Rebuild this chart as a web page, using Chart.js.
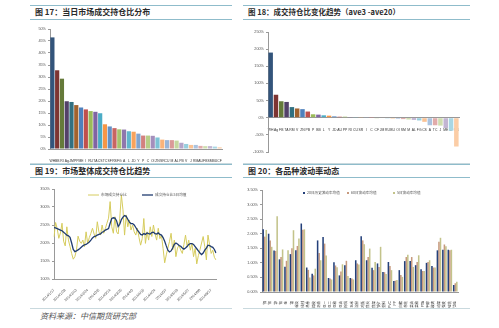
<!DOCTYPE html>
<html>
<head>
<meta charset="utf-8">
<script src="https://cdn.jsdelivr.net/npm/chart.js@4.4.0/dist/chart.umd.min.js"></script>
<style>
body { margin: 0; background: #fff; width: 499px; height: 328px; overflow: hidden; position: relative; font-family: "Noto Sans CJK SC", sans-serif; }
.ln { position: absolute; height: 0; border-top: 1px solid #8fbccb; }
.ln.low { border-top-color: #c9d9de; }
.title { position: absolute; font-size: 8px; line-height: 10px; color: #2b2b2b; font-weight: 700; white-space: nowrap; }
.box { position: absolute; }
.src { position: absolute; left: 40px; top: 311px; font-size: 8px; line-height: 10px; color: #555; font-style: italic; }
</style>
</head>
<body>

<div class="ln" style="left:30px;top:5px;width:202px"></div>
<div class="ln" style="left:30px;top:19px;width:202px"></div>
<div class="ln low" style="left:30px;top:163px;width:202px"></div>
<div class="ln" style="left:243px;top:5px;width:227px"></div>
<div class="ln" style="left:243px;top:19px;width:227px"></div>
<div class="ln low" style="left:243px;top:163px;width:227px"></div>
<div class="ln" style="left:30px;top:164px;width:202px"></div>
<div class="ln" style="left:30px;top:177px;width:202px"></div>
<div class="ln low" style="left:30px;top:308px;width:202px"></div>
<div class="ln" style="left:243px;top:164px;width:227px"></div>
<div class="ln" style="left:243px;top:177px;width:227px"></div>
<div class="ln low" style="left:243px;top:308px;width:227px"></div>

<div class="title" style="left:35px;top:7px">图 17：当日市场成交持仓比分布</div>
<div class="title" style="left:248px;top:7px;font-size:7.5px">图 18：成交持仓比变化趋势（ave3 -ave20）</div>
<div class="title" style="left:35px;top:166px">图 19：市场整体成交持仓比趋势</div>
<div class="title" style="left:248px;top:166px">图 20：各品种波动率动态</div>

<div class="box" style="left:30px;top:22px;width:202px;height:142px"><canvas id="c17"></canvas></div>
<div class="box" style="left:243px;top:22px;width:227px;height:142px"><canvas id="c18"></canvas></div>
<div class="box" style="left:30px;top:180px;width:202px;height:128px"><canvas id="c19"></canvas></div>
<div class="box" style="left:243px;top:180px;width:227px;height:128px"><canvas id="c20"></canvas></div>

<div class="src">资料来源：中信期货研究部</div>

<script>
// 图17：当日成交持仓比 (%)
const cats17 = ['WH','BB','RI','Ag','JM','PP','ME','I','RU','TA','CS','TC','SF','RS','FG','A','L','JD','Y','P','C','OI','ZN','SR','CU','M','AL','PB','V','J','RM','AU','FB','SM','BU','CF'];
const vals17 = [46.5, 32.8, 29.3, 19.9, 19.6, 18.3, 17.3, 16.5, 15.8, 15.5, 14.9, 10.3, 9.4, 8.7, 8.2, 8.1, 7.4, 7.2,
                6.4, 5.6, 5.6, 5.5, 4.8, 3.9, 3.7, 3.7, 3.5, 2.6, 2.1, 1.7, 1.7, 1.3, 1.2, 1.2, 1.0, 0.7];
const yAxis17 = [0, 50, 5];

// 图18：ave3 - ave20 (%)
const cats18 = ['WH','Ag','FB','TA','RM','V','ZN','PB','P','BB','L','Y','JD','AU','PP','RI','CU','SR','I','C','CF','JM','RU','BU','OI','SM','M','AL','FG','CS','A','TC','J','ME','SF','RS'];
const vals18 = [190, 67, 48, 46, 31, 27, 25, 18, 10, 9, 7, 6, 4, 3, 3, 2, 2, 1, 1, 0.5,
                -1, -1.5, -2, -2.5, -3, -4, -5, -6, -8, -12, -22, -22, -23, -30, -38, -84];
const yAxis18 = [-100, 250, 50];

// 图19：市场整体成交持仓比 (%)
const dates19 = [
  '2014/1/17','2014/1/20','2014/1/21','2014/1/22','2014/1/23','2014/1/24','2014/1/27','2014/1/28','2014/1/29','2014/1/30',
  '2014/2/7','2014/2/10','2014/2/11','2014/2/12','2014/2/13','2014/2/14','2014/2/17','2014/2/18','2014/2/19','2014/2/20',
  '2014/2/21','2014/2/24','2014/2/25','2014/2/26','2014/2/27','2014/2/28','2014/3/3','2014/3/4','2014/3/5','2014/3/6',
  '2014/3/7','2014/3/10','2014/3/11','2014/3/12','2014/3/13','2014/3/14','2014/3/17','2014/3/18','2014/3/19','2014/3/20',
  '2014/3/21','2014/3/24','2014/3/25','2014/3/26','2014/3/27','2014/3/28','2014/3/31','2014/4/1','2014/4/2','2014/4/3',
  '2014/4/4','2014/4/8','2014/4/9','2014/4/10','2014/4/11','2014/4/14','2014/4/15','2014/4/16','2014/4/17','2014/4/18',
  '2014/4/21','2014/4/22','2014/4/23','2014/4/24','2014/4/25','2014/4/28','2014/4/29','2014/4/30','2014/5/5','2014/5/6',
  '2014/5/7','2014/5/8','2014/5/9','2014/5/12','2014/5/13','2014/5/14','2014/5/15','2014/5/16','2014/5/19','2014/5/20',
  '2014/5/21','2014/5/22','2014/5/23','2014/5/26','2014/5/27','2014/5/28','2014/5/29','2014/5/30','2014/6/3','2014/6/4',
  '2014/6/5','2014/6/6','2014/6/9','2014/6/10','2014/6/11','2014/6/12','2014/6/13','2014/6/16','2014/6/17','2014/6/18',
  '2014/6/19','2014/6/20'];
const ratio19 = [
  217, 257, 240, 213, 228, 255, 205, 192, 245, 208,
  190, 171, 155, 162, 180, 219, 205, 199, 208, 190,
  231, 199, 215, 227, 241, 225, 213, 259, 231, 222,
  250, 227, 240, 255, 269, 315, 245, 227, 273, 231,
  225, 269, 333, 292, 222, 278, 245, 264, 236, 250,
  231, 222, 241, 215, 194, 212, 268, 199, 231, 208,
  245, 218, 250, 225, 208, 241, 212, 222, 185, 145,
  167, 186, 204, 227, 181, 208, 162, 186, 194, 180,
  171, 196, 222, 190, 208, 180, 199, 162, 185, 142,
  165, 181, 200, 218, 190, 153, 222, 195, 171, 180,
  160, 153];
const ma19 = [
  243, 242, 240, 238, 236, 234, 230, 226, 222, 220,
  216, 200, 182, 176, 178, 181, 184, 188, 192, 195,
  196, 199, 203, 208, 214, 218, 219, 222, 224, 225,
  230, 232, 236, 238, 240, 255, 268, 270, 269, 262,
  246, 252, 265, 272, 276, 274, 266, 258, 254, 254,
  250, 243, 236, 230, 224, 222, 226, 224, 228, 226,
  225, 229, 230, 226, 225, 228, 224, 222, 215, 205,
  192, 180, 175, 178, 186, 196, 200, 197, 193, 191,
  186, 183, 186, 190, 196, 198, 198, 196, 190, 184,
  178, 172, 168, 172, 180, 186, 194, 193, 190, 188,
  182, 172];
const legend19 = ['市场成交持仓比', '成交持仓比5日均值'];
const yAxis19 = [100, 350, 50];

// 图20：各品种波动率 (%)
const cats20 = ['铜','铝','锌','铅','金','银','螺纹','线材','热卷','橡胶','沥青','豆一','豆二','豆粕','豆油','棕榈','玉米','淀粉',
                '鸡蛋','焦炭','焦煤','铁矿','塑料','PVC','PP','白糖','棉花','菜油','菜粕','PTA','甲醇','玻璃','动煤','强麦','硅铁','锰硅'];
const vol20a = [2.15, 2.00, 1.42, 1.12, 0.87, 1.30, 1.43, 2.35, 0.84, 0.63, 1.77, 1.89, 0.48, 1.02, 0.57, 0.92, 0.48, 1.09,
                1.91, 1.09, 0.83, 0.98, 0.69, 1.03, 0.38, 0.75, 1.06, 1.06, 0.92, 0.78, 1.00, 0.89, 1.43, 1.45, 1.45, 0.24];
const vol20b = [1.90, 1.77, 1.41, 1.20, 1.07, 1.50, 1.58, 2.14, 0.76, 0.57, 1.34, 1.66, 0.46, 0.91, 0.70, 1.07, 0.46, 0.98,
                1.77, 1.20, 0.75, 0.86, 0.68, 0.89, 0.39, 0.58, 1.20, 1.20, 1.03, 0.72, 1.03, 0.84, 1.72, 1.63, 1.43, 0.30];
const vol20c = [2.13, 1.55, 2.60, 1.46, 1.43, 2.12, 1.84, 2.15, 0.50, 0.80, 1.09, 1.25, 0.43, 0.85, 0.95, 0.55, 0.43, 0.94,
                1.64, 1.49, 1.03, 1.55, 0.62, 0.75, 0.41, 0.52, 1.28, 0.86, 1.26, 0.72, 1.09, 0.84, 1.86, 1.57, 1.45, 0.35];
const legend20 = ['20日历史波动率均值', '60日波动率均值', '5日波动率均值'];
const yAxis20 = [0, 3.5, 0.5];

Chart.defaults.animation = false;
Chart.defaults.font.family = '"Liberation Sans", "Noto Sans CJK SC", sans-serif';
Chart.defaults.plugins.legend.display = false;
Chart.defaults.plugins.tooltip.enabled = false;

// Excel style colours, darker first cycle then lighter cycles
const baseCols = [[79,129,189],[192,80,77],[155,187,89],[128,100,162],[75,172,198],[247,150,70]];
const shades = [-0.35, 0, 0.12, 0.28, 0.42, 0.52];
function barColor(i) {
    const c = baseCols[i % 6], s = shades[Math.floor(i / 6) % 6];
    const m = s < 0 ? c.map(v => Math.round(v * (1 + s))) : c.map(v => Math.round(v + (255 - v) * s));
    return 'rgb(' + m.join(',') + ')';
}

function yAxis(range, width, fmt) {
    return {
        min: range[0], max: range[1],
        ticks: { stepSize: range[2], font: { size: 3.8 }, color: '#555', padding: 2, callback: fmt },
        grid: { drawOnChartArea: false, tickLength: 2, color: '#999' },
        border: { color: '#999' },
        afterFit: s => { s.width = width; }
    };
}

// petite légende dessinée à la main
const miniLegend = {
    id: 'miniLegend',
    afterDraw(chart, args, opts) {
        if (!opts.items) return;
        const ctx = chart.ctx;
        ctx.save();
        ctx.font = opts.size + 'px "Noto Sans CJK SC"';
        ctx.textBaseline = 'middle';
        opts.items.forEach(it => {
            let tx;
            if (it.line) {
                ctx.strokeStyle = it.color;
                ctx.lineWidth = it.lw;
                ctx.beginPath();
                ctx.moveTo(it.x, opts.y);
                ctx.lineTo(it.x + 11, opts.y);
                ctx.stroke();
                tx = it.x + 13;
            } else {
                ctx.fillStyle = it.color;
                ctx.fillRect(it.x, opts.y - 1, 2, 2);
                tx = it.x + 4;
            }
            ctx.fillStyle = '#555';
            ctx.fillText(it.text, tx, opts.y);
        });
        ctx.restore();
    }
};
Chart.register(miniLegend);

// 图17
new Chart(document.getElementById('c17'), {
    type: 'bar',
    data: {
        labels: cats17,
        datasets: [{ data: vals17, backgroundColor: vals17.map((_, i) => barColor(i)), barPercentage: 0.88, categoryPercentage: 1 }]
    },
    options: {
        responsive: true, maintainAspectRatio: false,
        layout: { padding: { top: 7, right: 10, left: 0, bottom: 0 } },
        scales: {
            x: {
                ticks: { autoSkip: false, maxRotation: 0, minRotation: 0, font: { size: 3.4 }, color: '#333', padding: 2 },
                grid: { display: false }, border: { color: '#999' },
                afterFit: s => { s.height = 15; }
            },
            y: yAxis(yAxis17, 20, v => v + '%')
        }
    }
});

// 图18
new Chart(document.getElementById('c18'), {
    type: 'bar',
    data: {
        labels: cats18,
        datasets: [{ data: vals18, backgroundColor: vals18.map((_, i) => barColor(i)), barPercentage: 0.85, categoryPercentage: 1 }]
    },
    options: {
        responsive: true, maintainAspectRatio: false,
        layout: { padding: { top: 10, right: 11, left: 0, bottom: 12 } },
        scales: {
            x: {
                position: { y: 0 },
                ticks: { autoSkip: false, maxRotation: 0, minRotation: 0, font: { size: 3.4 }, color: '#333', padding: 2 },
                grid: { display: false }, border: { color: '#999' }
            },
            y: yAxis(yAxis18, 25, v => v + '%')
        }
    }
});

// 图19
new Chart(document.getElementById('c19'), {
    type: 'line',
    data: {
        labels: dates19,
        datasets: [
            { data: ma19, borderColor: '#1f3b70', borderWidth: 1.3, pointRadius: 0, order: 0 },
            { data: ratio19, borderColor: '#d6cc5e', borderWidth: 1, pointRadius: 0, order: 1 }
        ]
    },
    options: {
        responsive: true, maintainAspectRatio: false,
        layout: { padding: { top: 9, right: 16, left: 0, bottom: 0 } },
        scales: {
            x: {
                ticks: {
                    autoSkip: false, maxRotation: 45, minRotation: 45, font: { size: 3.6 }, color: '#444', padding: 1,
                    callback: (v, i) => i % 7 === 0 ? dates19[i] : ''
                },
                grid: { display: false }, border: { color: '#999' },
                afterFit: s => { s.height = 29; }
            },
            y: yAxis(yAxis19, 24, v => v + '%')
        },
        plugins: {
            miniLegend: {
                y: 15, size: 3.7,
                items: [
                    { line: true, x: 58, color: '#d6cc5e', lw: 1, text: legend19[0] },
                    { line: true, x: 112, color: '#1f3b70', lw: 1.3, text: legend19[1] }
                ]
            }
        }
    }
});

// 图20
new Chart(document.getElementById('c20'), {
    type: 'bar',
    data: {
        labels: cats20,
        datasets: [
            { data: vol20a, backgroundColor: '#24407a', barPercentage: 1, categoryPercentage: 0.85 },
            { data: vol20b, backgroundColor: '#c79a7e', barPercentage: 1, categoryPercentage: 0.85 },
            { data: vol20c, backgroundColor: '#c3c38a', barPercentage: 1, categoryPercentage: 0.85 }
        ]
    },
    options: {
        responsive: true, maintainAspectRatio: false,
        layout: { padding: { top: 10, right: 12, left: 0, bottom: 0 } },
        scales: {
            x: {
                ticks: { autoSkip: false, maxRotation: 90, minRotation: 90, font: { size: 3.4 }, color: '#333', padding: 1 },
                grid: { display: false }, border: { color: '#999' },
                afterFit: s => { s.height = 16; }
            },
            y: yAxis(yAxis20, 19, v => v.toFixed(2) + '%')
        },
        plugins: {
            miniLegend: {
                y: 13, size: 3.6,
                items: [
                    { x: 60, color: '#24407a', text: legend20[0] },
                    { x: 104, color: '#c79a7e', text: legend20[1] },
                    { x: 150, color: '#c3c38a', text: legend20[2] }
                ]
            }
        }
    }
});
</script>
</body>
</html>
